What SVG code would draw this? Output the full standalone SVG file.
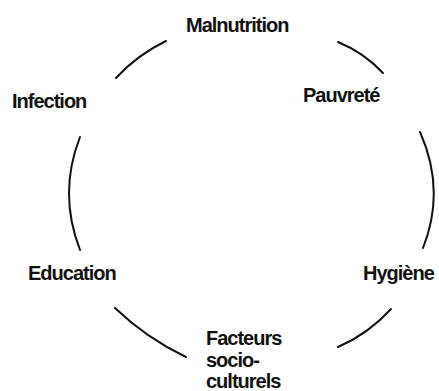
<svg xmlns="http://www.w3.org/2000/svg" width="439" height="391" viewBox="0 0 439 391">
<style>
.lbl{font-family:"Liberation Sans",Arial,sans-serif;font-size:20px;font-weight:bold;letter-spacing:-1px;fill:#111}
.arc{fill:none;stroke:#111;stroke-width:2;stroke-linecap:round}
</style>
<rect width="439" height="391" fill="#fff"/>
<g id="connectors">
<path class="arc" d="M116,78 Q137.4,54.7 166,41"/>
<path class="arc" d="M338,42 Q363.9,52.6 383,73"/>
<path class="arc" d="M420,132 Q446,190 423,248"/>
<path class="arc" d="M80,137 Q58,193 80,250"/>
<path class="arc" d="M115,308 Q146.5,338.2 186,357"/>
<path class="arc" d="M338,347 Q368.6,333.7 391,309"/>
</g>
<g id="malnutrition"><text class="lbl" x="186" y="31.5">Malnutrition</text></g>
<g id="pauvrete"><text class="lbl" x="303" y="102">Pauvreté</text></g>
<g id="hygiene"><text class="lbl" x="363" y="279.5">Hygiène</text></g>
<g id="facteurs"><text class="lbl" x="206" y="345">Facteurs<tspan x="206" y="366.5">socio-</tspan><tspan x="206" y="388">culturels</tspan></text></g>
<g id="education"><text class="lbl" x="28" y="279.5">Education</text></g>
<g id="infection"><text class="lbl" x="12" y="108">Infection</text></g>
</svg>
